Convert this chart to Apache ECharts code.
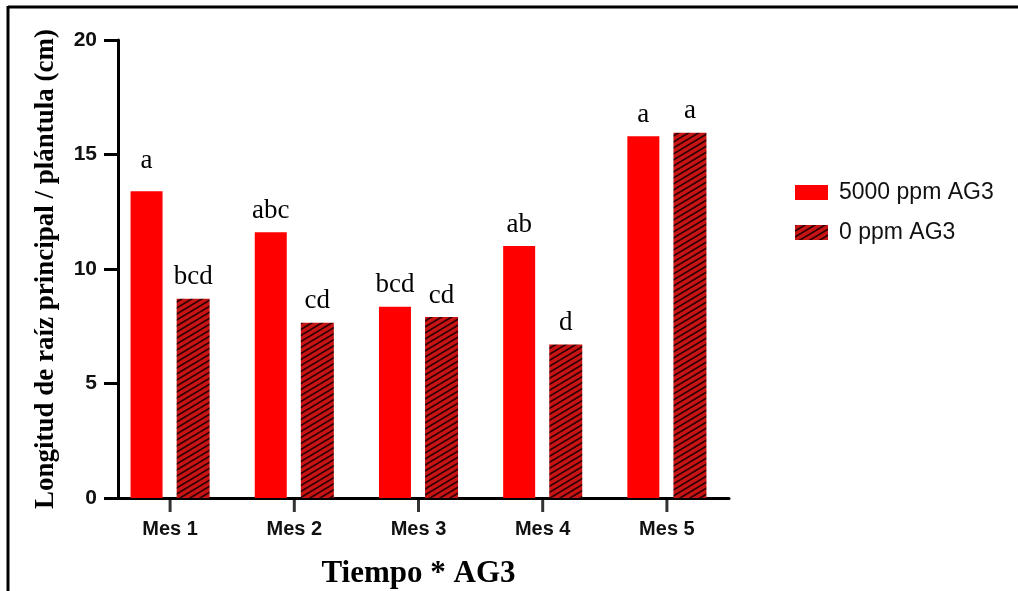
<!DOCTYPE html>
<html>
<head>
<meta charset="utf-8">
<script src="https://cdn.jsdelivr.net/npm/echarts@6/dist/echarts.min.js"></script>
<style>
  html, body { margin: 0; padding: 0; background: #fff; }
  #chart { width: 1018px; height: 591px; }
</style>
</head>
<body>
<div id="chart"></div>
<script>
// Longitud de raíz principal por mes
const meses = ["Mes 1", "Mes 2", "Mes 3", "Mes 4", "Mes 5"];
const con5000 = [13.4, 11.6, 8.35, 11.0, 15.8];
const sin0 = [8.7, 7.65, 7.9, 6.7, 15.95];
const letras5000 = ["a", "abc", "bcd", "ab", "a"];
const letras0 = ["bcd", "cd", "cd", "d", "a"];
const yTicks = [0, 5, 10, 15, 20];

// patron rayado para la serie 0 ppm
function rayado() {
  const c = document.createElement("canvas");
  const W = 10, H = 6;
  c.width = W; c.height = H;
  const ctx = c.getContext("2d");
  ctx.fillStyle = "#c81414";
  ctx.fillRect(0, 0, W, H);
  ctx.strokeStyle = "#300000";
  ctx.lineWidth = 1.7;
  for (let k = -1; k <= 1; k++) {
    for (let j = -1; j <= 1; j++) {
      ctx.beginPath();
      ctx.moveTo(k * W, H + j * H);
      ctx.lineTo(k * W + W, j * H);
      ctx.stroke();
    }
  }
  return c;
}

const letraLabel = {
  show: true,
  position: "top",
  distance: 8,
  fontFamily: "Liberation Serif",
  fontSize: 27,
  color: "#000"
};

const chart = echarts.init(document.getElementById("chart"));
const option = {
  animation: false,
  backgroundColor: "#fff",
  grid: { left: 108, right: 289, top: 40, bottom: 93, outerBoundsMode: "none", containLabel: false },
  legend: {
    orient: "vertical",
    left: 790,
    top: 176,
    itemWidth: 33,
    itemHeight: 15,
    itemGap: 17,
    icon: "rect",
    textStyle: { fontFamily: "Liberation Sans", fontSize: 23, color: "#111", padding: [0, 0, 0, 6] },
    data: ["5000 ppm AG3", "0 ppm AG3"]
  },
  xAxis: {
    type: "category",
    data: meses,
    boundaryGap: true,
    name: "Tiempo * AG3",
    nameLocation: "middle",
    nameGap: 60,
    nameTextStyle: { fontFamily: "Liberation Serif", fontWeight: "bold", fontSize: 31, color: "#000" },
    axisLine: { show: true, lineStyle: { color: "#000", width: 3 } },
    axisTick: { show: false },
    axisLabel: { margin: 21, fontFamily: "Liberation Sans", fontWeight: "bold", fontSize: 20, color: "#111" }
  },
  yAxis: {
    type: "value",
    min: 0,
    max: 20,
    interval: 5,
    offset: -10,
    name: "Longitud de raíz principal / plántula (cm)",
    nameLocation: "middle",
    nameGap: 58,
    nameTextStyle: { fontFamily: "Liberation Serif", fontWeight: "bold", fontSize: 27, color: "#000" },
    axisLine: { show: true, lineStyle: { color: "#000", width: 3 } },
    axisTick: { show: true, length: 14, lineStyle: { color: "#000", width: 3 } },
    axisLabel: {
      margin: 21,
      fontFamily: "Liberation Sans",
      fontWeight: "bold",
      fontSize: 21,
      color: "#111",
      formatter: v => (yTicks.includes(v) ? String(v) : "")
    },
    splitLine: { show: false }
  },
  series: [
    {
      name: "5000 ppm AG3",
      type: "bar",
      data: con5000.map((v, i) => (i === 0 ? { value: v, label: { distance: 17 } } : v)),
      barWidth: 32,
      barGap: "44%",
      itemStyle: { color: "#ff0000" },
      label: Object.assign({}, letraLabel, { formatter: p => letras5000[p.dataIndex] })
    },
    {
      name: "0 ppm AG3",
      type: "bar",
      data: sin0,
      barWidth: 33,
      itemStyle: { color: { image: rayado(), repetition: "repeat" } },
      label: Object.assign({}, letraLabel, { formatter: p => letras0[p.dataIndex] })
    },
    {
      // marcas del eje x centradas bajo cada mes
      name: "ticks",
      type: "scatter",
      data: meses.map(m => [m, 0]),
      symbol: "rect",
      symbolSize: [3, 14],
      symbolOffset: [0, 7],
      itemStyle: { color: "#000" },
      silent: true,
      clip: false,
      z: 5
    }
  ],
  graphic: [
    { type: "line", shape: { x1: 8, y1: 7, x2: 1018, y2: 7 }, style: { stroke: "#000", lineWidth: 3 } },
    { type: "line", shape: { x1: 8, y1: 6, x2: 8, y2: 591 }, style: { stroke: "#000", lineWidth: 3 } }
  ]
};
chart.setOption(option);
</script>
</body>
</html>
